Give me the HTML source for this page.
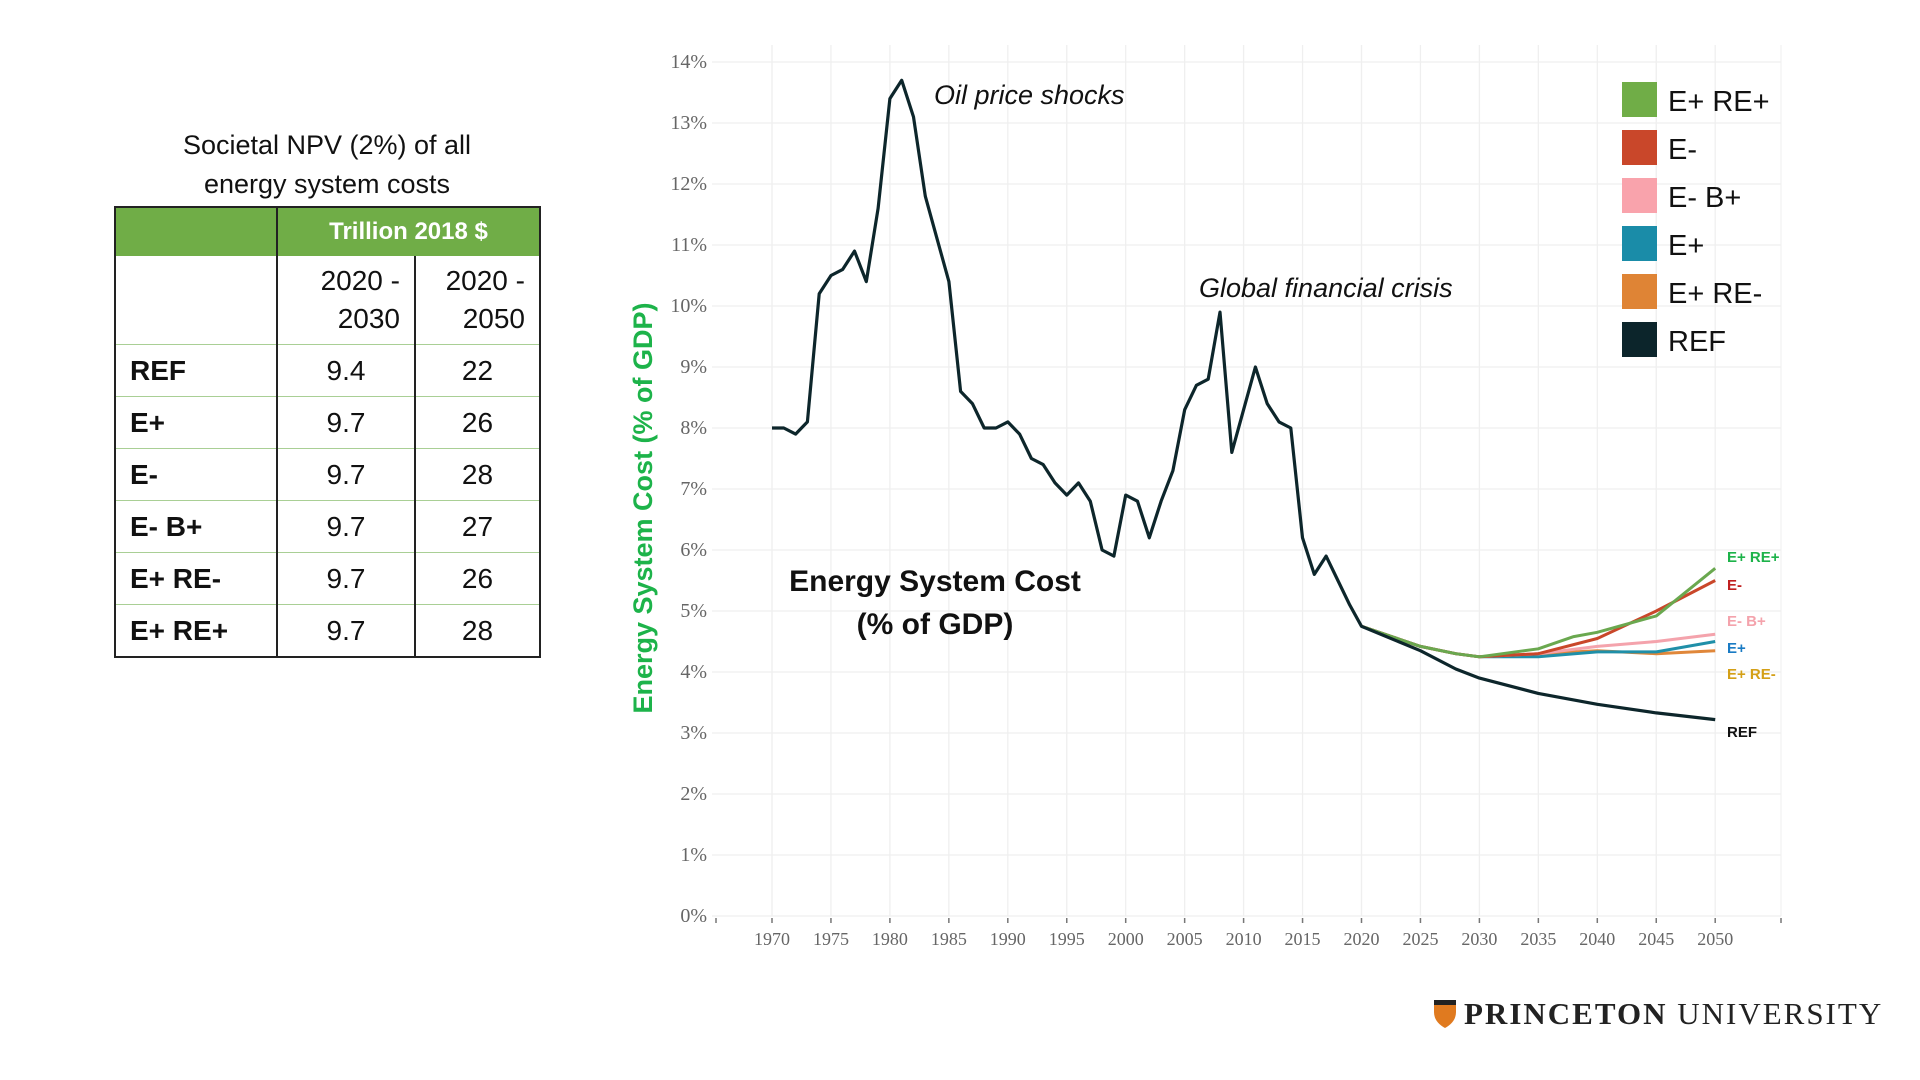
<!DOCTYPE html>
<html><head><meta charset="utf-8"><style>
body{margin:0;width:1920px;height:1080px;background:#fff;overflow:hidden;font-family:"Liberation Sans",sans-serif;}
.title{position:absolute;left:114px;width:426px;top:126px;text-align:center;font-size:27px;line-height:39px;color:#111;}
table{position:absolute;left:114px;top:206px;border-collapse:collapse;width:427px;font-size:28px;color:#111;}
td{border-left:2px solid #222;border-right:2px solid #222;border-bottom:1.5px solid #a9cf95;height:51px;padding:0;}
.h td{background:#70ad47;color:#fff;font-weight:bold;height:48px;border-top:2px solid #222;border-bottom:none;font-size:24px;text-align:center}
.lab{font-weight:bold;padding-left:14px;width:146px}
.num{text-align:center}
.last td{border-bottom:2px solid #222}
</style></head><body>
<div class="title">Societal NPV (2%) of all<br>energy system costs</div>
<table>
<tr class="h"><td style="width:160px"></td><td colspan="2">Trillion 2018 $</td></tr>
<tr><td style="height:88px"></td><td style="text-align:right;padding-right:14px;line-height:38px;width:122px">2020 -<br>2030</td><td style="text-align:right;padding-right:14px;line-height:38px">2020 -<br>2050</td></tr>
<tr><td class="lab">REF</td><td class="num">9.4</td><td class="num">22</td></tr>
<tr><td class="lab">E+</td><td class="num">9.7</td><td class="num">26</td></tr>
<tr><td class="lab">E-</td><td class="num">9.7</td><td class="num">28</td></tr>
<tr><td class="lab">E- B+</td><td class="num">9.7</td><td class="num">27</td></tr>
<tr><td class="lab">E+ RE-</td><td class="num">9.7</td><td class="num">26</td></tr>
<tr class="last"><td class="lab">E+ RE+</td><td class="num">9.7</td><td class="num">28</td></tr>
</table>
<svg id="c" width="1920" height="1080" style="position:absolute;left:0;top:0" xmlns="http://www.w3.org/2000/svg"></svg>
<script>
var s=document.getElementById('c'),h='';
function X(y){return 772+(y-1970)*11.79}
function Y(v){return 916-61*v}
for(var i=0;i<=14;i++){h+='<line x1="712" x2="1781" y1="'+Y(i)+'" y2="'+Y(i)+'" stroke="#efefef" stroke-width="1.3"/>';
h+='<text x="707" y="'+(Y(i)+6)+'" text-anchor="end" font-family="Liberation Serif,serif" font-size="20" fill="#666">'+i+'%</text>';}
for(var y=1970;y<=2050;y+=5){h+='<line x1="'+X(y)+'" x2="'+X(y)+'" y1="45" y2="916" stroke="#efefef" stroke-width="1.3"/>';
h+='<line x1="'+X(y)+'" x2="'+X(y)+'" y1="918" y2="923" stroke="#777" stroke-width="1.5"/>';
h+='<text x="'+X(y)+'" y="945" text-anchor="middle" font-family="Liberation Serif,serif" font-size="18" fill="#666">'+y+'</text>';}
h+='<line x1="1781" x2="1781" y1="45" y2="916" stroke="#efefef"/><line x1="716" x2="716" y1="918" y2="923" stroke="#777" stroke-width="1.5"/><line x1="1781" x2="1781" y1="918" y2="923" stroke="#777" stroke-width="1.5"/>';
var ref=[8,8,7.9,8.1,10.2,10.5,10.6,10.9,10.4,11.6,13.4,13.7,13.1,11.8,11.1,10.4,8.6,8.4,8,8,8.1,7.9,7.5,7.4,7.1,6.9,7.1,6.8,6,5.9,6.9,6.8,6.2,6.8,7.3,8.3,8.7,8.8,9.9,7.6,8.3,9,8.4,8.1,8,6.2,5.6,5.9,5.5,5.1,4.75];
function poly(pts,c,w){var p=pts.map(function(a){return X(a[0]).toFixed(1)+','+Y(a[1]).toFixed(1)}).join(' ');h+='<polyline points="'+p+'" fill="none" stroke="'+c+'" stroke-width="'+w+'" stroke-linejoin="round"/>';}
var base=[[2020,4.75],[2025,4.42],[2028,4.3],[2030,4.25]];
poly(base.concat([[2035,4.3],[2040,4.35],[2045,4.3],[2050,4.35]]),'#e0873a',3);
poly(base.concat([[2035,4.25],[2040,4.33],[2045,4.33],[2050,4.5]]),'#1f8fa8',3);
poly(base.concat([[2035,4.3],[2040,4.42],[2045,4.5],[2050,4.62]]),'#f4a3ac',3);
poly(base.concat([[2035,4.3],[2040,4.55],[2045,5.0],[2050,5.5]]),'#c9472a',3);
poly(base.concat([[2035,4.38],[2038,4.58],[2040,4.65],[2045,4.92],[2050,5.7]]),'#6aa84f',3);
var r=ref.map(function(v,i){return [1970+i,v]});
r=r.concat([[2025,4.35],[2028,4.05],[2030,3.9],[2035,3.65],[2040,3.47],[2045,3.33],[2050,3.22]]);
poly(r,'#0d262b',3.2);
var lab=[['E+ RE+',556,'#1db34a'],['E-',584,'#c02020'],['E- B+',620,'#f4a3ac'],['E+',647,'#1a7bc4'],['E+ RE-',673,'#d4a017'],['REF',731,'#111']];
lab.forEach(function(l){h+='<text x="1727" y="'+(l[1]+6)+'" font-size="15" font-weight="bold" fill="'+l[2]+'">'+l[0]+'</text>'});
var leg=[['E+ RE+','#70ad47'],['E-','#c9472a'],['E- B+','#f9a3ac'],['E+','#1a8ca8'],['E+ RE-','#df8435'],['REF','#0c252b']];
leg.forEach(function(l,i){var y=82+i*48;h+='<rect x="1622" y="'+y+'" width="35" height="35" fill="'+l[1]+'"/><text x="1668" y="'+(y+29)+'" font-size="29" fill="#111">'+l[0]+'</text>'});
h+='<text x="934" y="104" font-size="27" font-style="italic" fill="#111">Oil price shocks</text>';
h+='<text x="1199" y="297" font-size="27" font-style="italic" fill="#111">Global financial crisis</text>';
h+='<text x="935" y="591" text-anchor="middle" font-size="30" font-weight="bold" fill="#111">Energy System Cost</text>';
h+='<text x="935" y="634" text-anchor="middle" font-size="30" font-weight="bold" fill="#111">(% of GDP)</text>';
h+='<text transform="translate(652,508) rotate(-90)" text-anchor="middle" font-size="27" font-weight="bold" fill="#1db34a">Energy System Cost (% of GDP)</text>';
h+='<path d="M1434,1000 h22 v12 q0,10 -11,16 q-11,-6 -11,-16z" fill="#e07a1f"/><path d="M1434,1000 h22 v5 h-22z" fill="#222"/>';
h+='<text x="1464" y="1024" font-family="Liberation Serif,serif" font-size="31" letter-spacing="2" fill="#222"><tspan font-weight="bold">PRINCETON</tspan> UNIVERSITY</text>';
s.innerHTML=h;
</script>
</body></html>
